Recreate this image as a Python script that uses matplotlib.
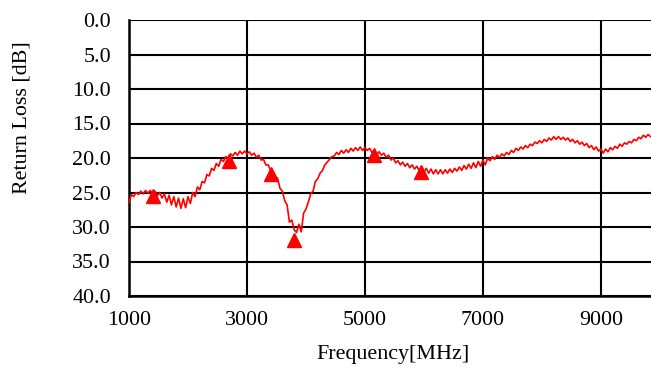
import matplotlib
matplotlib.use("Agg")
import matplotlib.pyplot as plt
import numpy as np

plt.rcParams["font.family"] = ["Liberation Serif", "DejaVu Serif"]

# sweep frequencies [MHz], 40 MHz spacing
freq = np.arange(1000, 9841, 40)

# return loss [dB], one row per 1000 MHz
rl_1000 = [26.5, 25.3, 25.6, 25.0, 25.3, 24.8, 25.2, 24.7, 25.1, 24.7, 25.2, 24.8, 25.5,
           25.0, 25.8, 25.2, 26.4, 25.4, 26.8, 25.6, 27.1, 25.8, 27.3, 25.9, 27.2]
rl_2000 = [25.6, 26.6, 25.0, 25.6, 24.2, 24.6, 23.4, 23.6, 22.4, 22.6, 21.5, 21.8, 20.8,
           21.2, 20.2, 20.5, 19.8, 20.0, 19.4, 19.7, 19.2, 19.6, 19.0, 19.4, 19.0]
rl_3000 = [19.4, 19.1, 19.6, 19.3, 19.9, 19.6, 20.3, 20.2, 21.0, 21.0, 21.8, 22.0, 22.6,
           23.0, 24.4, 24.8, 26.2, 26.8, 29.3, 29.0, 30.4, 30.8, 29.6, 30.7, 28.0]
rl_4000 = [27.4, 26.4, 25.2, 24.8, 23.4, 23.0, 22.2, 21.8, 21.0, 20.6, 20.2, 19.8, 19.7,
           19.2, 19.5, 18.9, 19.3, 18.8, 19.2, 18.6, 19.0, 18.5, 18.9, 18.4, 18.9]
rl_5000 = [18.5, 18.9, 18.6, 19.2, 18.9, 19.5, 19.1, 19.6, 19.3, 19.9, 19.6, 20.3, 20.0,
           20.7, 20.4, 21.0, 20.6, 21.2, 20.8, 21.4, 21.0, 21.6, 21.2, 21.8, 21.4]
rl_6000 = [22.0, 21.5, 22.2, 21.6, 22.3, 21.7, 22.3, 21.7, 22.3, 21.7, 22.2, 21.6, 22.1,
           21.5, 21.9, 21.3, 21.8, 21.1, 21.6, 20.9, 21.5, 20.7, 21.4, 20.5, 21.2]
rl_7000 = [20.3, 21.0, 20.0, 20.4, 19.8, 20.2, 19.6, 19.9, 19.4, 19.7, 19.2, 19.5, 18.9,
           19.2, 18.6, 18.9, 18.4, 18.7, 18.2, 18.5, 18.0, 18.2, 17.7, 17.9, 17.5]
rl_8000 = [17.8, 17.3, 17.6, 17.1, 17.4, 16.9, 17.3, 16.9, 17.3, 17.0, 17.4, 17.1, 17.6,
           17.3, 17.8, 17.5, 18.0, 17.7, 18.2, 17.9, 18.5, 18.2, 18.8, 18.4, 19.0]
rl_9000 = [18.7, 19.3, 18.7, 19.1, 18.5, 18.8, 18.3, 18.6, 18.0, 18.3, 17.8, 18.0, 17.6,
           17.8, 17.3, 17.5, 17.0, 17.2, 16.7, 17.0, 16.6, 16.9]
return_loss = rl_1000 + rl_2000 + rl_3000 + rl_4000 + rl_5000 + rl_6000 + rl_7000 + rl_8000 + rl_9000

# marked points
mark_freq = [1400, 2700, 3400, 3800, 5150, 5950]
mark_rl = [25.5, 20.4, 22.3, 31.9, 19.6, 22.0]

x_ticks = [1000, 3000, 5000, 7000, 9000]
y_ticks = [0, 5, 10, 15, 20, 25, 30, 35, 40]

W, H = 651, 367
FS = 15.8
fig = plt.figure(figsize=(W / 100, H / 100), dpi=100)
ax = fig.add_axes([129 / W, 1 - 296 / H, (W - 129) / W, 276 / H])

ax.plot(freq, return_loss, color="#ff0000", lw=1.2, zorder=3, solid_joinstyle="round")
ax.plot(mark_freq, mark_rl, "^", color="#ff0000", ms=10.5, zorder=4, clip_on=False)

ax.set_xlim(1000, 1000 + (W - 128) / 0.0591)
ax.set_ylim(40, 0)
ax.set_xticks(x_ticks)
ax.set_yticks(y_ticks)
ax.set_yticklabels([f"{v:.1f}" for v in y_ticks])
ax.grid(True, color="black", lw=1.5)
ax.set_axisbelow(True)
ax.tick_params(axis="both", length=0, labelsize=FS, colors="black")
ax.tick_params(axis="y", pad=13)
ax.tick_params(axis="x", pad=11)
for side in ["right", "top"]:
    ax.spines[side].set_visible(False)
for side in ["left", "bottom"]:
    ax.spines[side].set_linewidth(1.8)
    ax.spines[side].set_color("black")

fig.text(22 / W, 1 - 118 / H, "Return Loss [dB]", rotation=90, ha="center", va="center", fontsize=FS)
fig.text(393 / W, 1 - 355 / H, "Frequency[MHz]", ha="center", va="center", fontsize=FS)

fig.savefig("out.png", dpi=100, facecolor="white")
